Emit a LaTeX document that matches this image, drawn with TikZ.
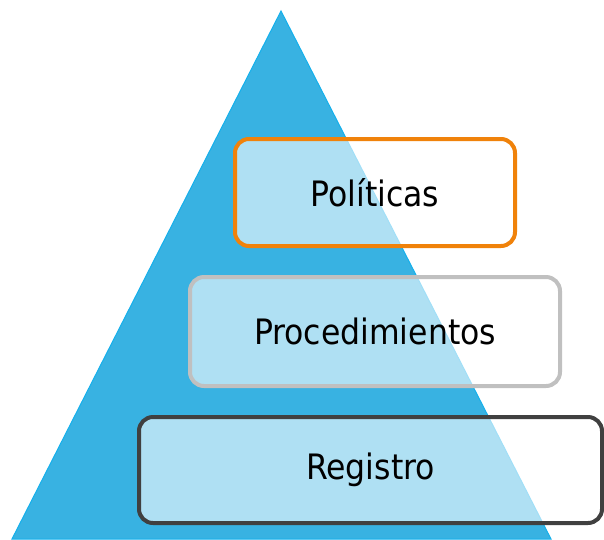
\documentclass[tikz,border=0pt]{standalone}
\usepackage{fontspec}
\setmainfont{DejaVu Sans Condensed}
\usepackage{xcolor}
\usepackage{tikz}
\definecolor{pyramidblue}{RGB}{56, 178, 226}
\definecolor{pyramidedge}{RGB}{20, 176, 236}
\definecolor{boxorange}{RGB}{240, 130, 10}
\definecolor{boxgray}{RGB}{192, 192, 192}
\definecolor{boxdark}{RGB}{64, 64, 64}

\begin{document}
\begin{tikzpicture}[x=1pt, y=-1pt,
    every node/.style={font=\fontsize{35}{38}\selectfont},
    levelbox/.style={fill=white, fill opacity=0.6, text opacity=1, rounded corners=14pt, line width=4pt, inner sep=0pt}]
    \useasboundingbox (0,0) rectangle (604,539);
    % Pyramid in the background
    \coordinate (apex) at (281,11);
    \coordinate (baseL) at (12,539);
    \coordinate (baseR) at (551,539);
    \draw[fill=pyramidblue, draw=pyramidedge, line width=1pt] (apex) -- (baseL) -- (baseR) -- cycle;

    % Levels, top to bottom
    \node[levelbox, draw=boxorange, minimum width=280pt, minimum height=107pt] (pol) at (375,192.5) {Políticas};
    \node[levelbox, draw=boxgray, minimum width=370pt, minimum height=109pt] (proc) at (375,331.5) {Procedimientos};
    \node[levelbox, draw=boxdark, minimum width=463pt, minimum height=106pt] (reg) at (370.5,470) {Registro};
\end{tikzpicture}
\end{document}
